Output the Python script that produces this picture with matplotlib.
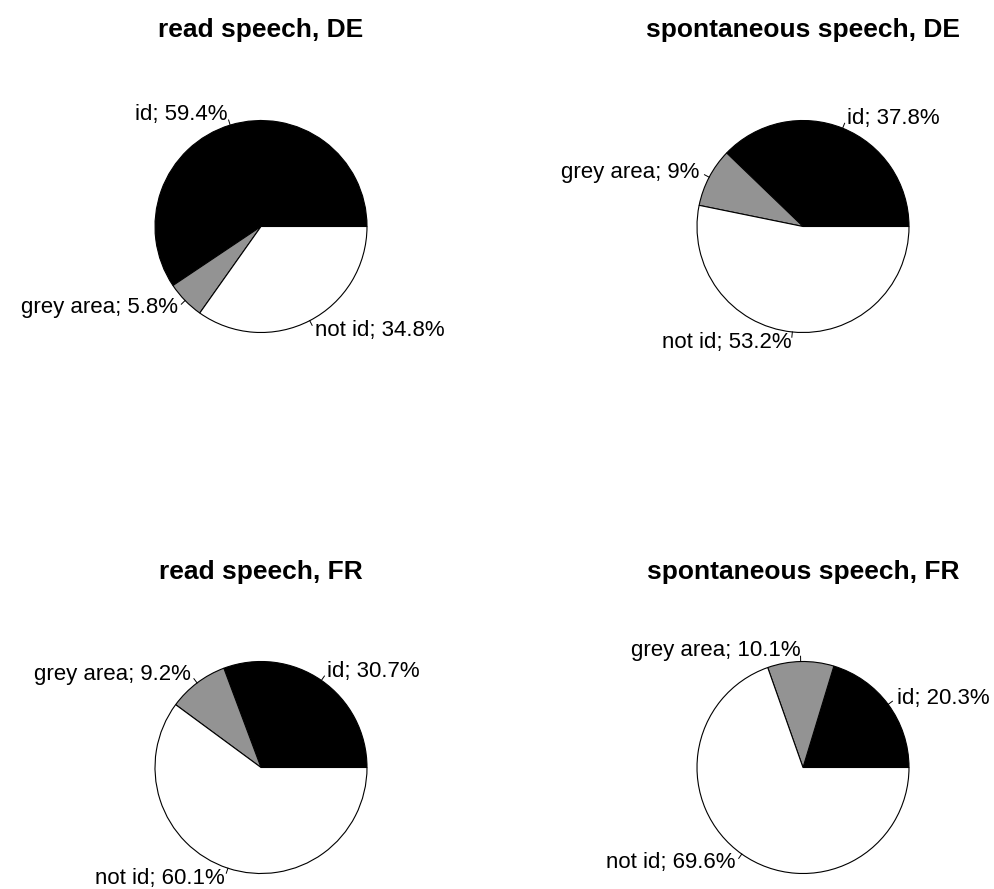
import numpy as np
import matplotlib.pyplot as plt

plt.rcParams['font.family'] = ['Liberation Sans', 'DejaVu Sans']

titles = ["read speech, DE", "spontaneous speech, DE",
          "read speech, FR", "spontaneous speech, FR"]
categories = ["id", "grey area", "not id"]
read_de = [59.4, 5.8, 34.8]
spont_de = [37.8, 9.0, 53.2]
read_fr = [30.7, 9.2, 60.1]
spont_fr = [20.3, 10.1, 69.6]
series = [read_de, spont_de, read_fr, spont_fr]

colors = ["black", "#939393", "white"]

W, H = 995, 889
fig = plt.figure(figsize=(W / 100, H / 100), dpi=100)

# pie centres in pixels (from top-left) and radius
centres = [(261, 226.5), (803, 226.5), (261, 767.5), (803, 767.5)]
R = 106
half = 260  # half size of each axes box in px

for (cx, cy), title, vals in zip(centres, titles, series):
    ax = fig.add_axes([(cx - half) / W, 1 - (cy + half) / H, 2 * half / W, 2 * half / H])
    lim = half / R
    wedges, _ = ax.pie(vals, colors=colors, startangle=0, counterclock=True,
                       radius=1, wedgeprops=dict(edgecolor="black", linewidth=0.8))
    ax.set_xlim(-lim, lim)
    ax.set_ylim(-lim, lim)
    ax.set_aspect("equal")
    ax.axis("off")
    for w, cat, v in zip(wedges, categories, vals):
        mid = np.deg2rad((w.theta1 + w.theta2) / 2)
        c, s = np.cos(mid), np.sin(mid)
        ax.plot([c, 1.05 * c], [s, 1.05 * s], color="black", lw=0.7, clip_on=False)
        ax.text(1.1 * c, 1.1 * s, f"{cat}; {v:g}%", fontsize=16,
                ha="left" if c > 0 else "right", va="center", clip_on=False)
    # title
    base_y = 36.7 if cy < 400 else 579
    fig.text(cx / W, 1 - base_y / H, title, fontsize=19, fontweight="bold",
             ha="center", va="baseline")

fig.savefig("out.png", dpi=100)
